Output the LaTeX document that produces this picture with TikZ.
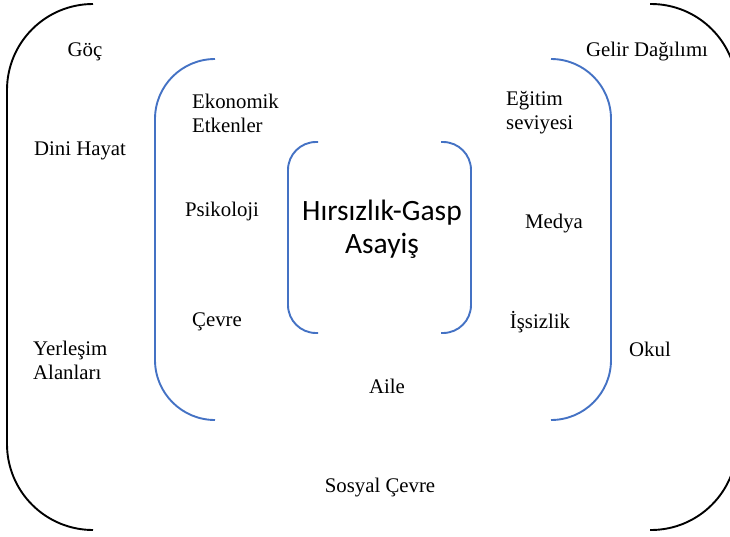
\documentclass[tikz,border=0pt]{standalone}
\usepackage{fontspec}
\setmainfont{Liberation Serif}
\newfontfamily\calib{Carlito}
\definecolor{bracketblue}{HTML}{4472C4}
\begin{document}
\begin{tikzpicture}[x=1pt,y=-1pt,
  outerbr/.style={draw=black,line width=1.9pt,rounded corners=86pt},
  midbr/.style={draw=bracketblue,line width=1.9pt,rounded corners=60pt},
  innerbr/.style={draw=bracketblue,line width=1.9pt,rounded corners=28pt},
  lbl/.style={font=\fontsize{20.8}{24}\selectfont,inner sep=0pt},
  lblL/.style={lbl,align=left,anchor=west},
  lblC/.style={lbl,align=center},
  center/.style={font=\calib\fontsize{29.5}{33}\selectfont,align=center,inner sep=0pt}]
\useasboundingbox (0,0) rectangle (730,536);
\begin{scope}
\clip (0,0) rectangle (730,536);
% outer brackets
\draw[outerbr] (93,4) -- (7,4) -- (7,530) -- (93,530);
\draw[outerbr] (650,4) -- (737,4) -- (737,530) -- (650,530);
% middle brackets
\draw[midbr] (215,59) -- (155,59) -- (155,420) -- (215,420);
\draw[midbr] (551,59) -- (611,59) -- (611,420) -- (551,420);
% inner brackets
\draw[innerbr] (318,142) -- (288,142) -- (288,333) -- (318,333);
\draw[innerbr] (441,142) -- (471,142) -- (471,333) -- (441,333);
\end{scope}
% outer labels
\node[lblC] (goc) at (85,52) {Göç};
\node[lblC] (gelir) at (647,52) {Gelir Dağılımı};
\node[lblC] (dini) at (80,151) {Dini Hayat};
\node[lblL] (yerlesim) at (33,360) {Yerleşim\\Alanları};
\node[lblC] (okul) at (650,349) {Okul};
\node[lblC] (sosyal) at (380,488) {Sosyal Çevre};
% middle labels
\node[lblL] (ekonomik) at (192,113) {Ekonomik\\Etkenler};
\node[lblC] (psikoloji) at (222,211) {Psikoloji};
\node[lblC] (cevre) at (217,322) {Çevre};
\node[lblL] (egitim) at (506,113) {Eğitim\\seviyesi};
\node[lblC] (medya) at (554,224) {Medya};
\node[lblC] (issizlik) at (540,322) {İşsizlik};
\node[lblC] (aile) at (387,386) {Aile};
% centre
\node[center] (hirsizlik) at (382,229) {Hırsızlık-Gasp\\Asayiş};
\end{tikzpicture}
\end{document}
